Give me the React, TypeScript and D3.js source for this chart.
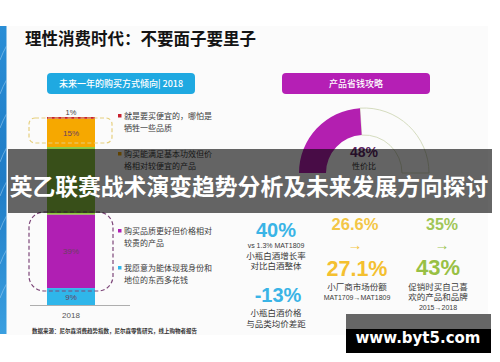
import React from "react";
import * as d3 from "d3";

// ---------- data ----------
const titleText = "理性消费时代：不要面子要里子";
const bannerText = "英乙联赛战术演变趋势分析及未来发展方向探讨";
const leftHeader = "未来一年的购买方式倾向| 2018";
const rightHeader = "产品省钱攻略";
const barCategory = "2018";
const segmentValues = [1, 15, 36, 39, 9];
const segmentLabels = ["1%", "15%", "", "39%", "9%"];
const legendLines = [
  ["就是要买便宜的，哪怕是", "牺牲一些品质"],
  ["购买能满足基本功效但价", "格相对较便宜的产品"],
  ["购买品质更好但价格相对", "较贵的产品"],
  ["我愿意为能体现我身份和", "地位的东西多花钱"],
];
const legendSegment = [0, 1, 3, 4];
const sourceText = "数据来源：尼尔森消费趋势指数，尼尔森零售研究，线上购物者报告";
const gaugeValue = 48;
const gaugeLabel = "48%";
const gaugeCaption = "性价比";
const statA = { big1: "40%", sub1: ["vs 1.3% MAT1809", "小瓶白酒增长率", "对比白酒整体"], big2: "-13%", sub2: ["小瓶白酒价格", "与品类均价差距"] };
const statB = { from: "26.6%", to: "27.1%", sub: ["小厂商市场份额", "MAT1709→MAT1809"] };
const statC = { from: "35%", to: "43%", sub: ["促销时买自己喜", "欢的产品和品牌", "2015→2018"] };
const watermark = "www.byt5.com";

// ---------- styles ----------
const segColors = ["#c8202e", "#f6a800", "#8dc63f", "#b01fb3", "#2fb6ea"];
const CJK = "'Noto Sans CJK SC', 'Noto Sans', sans-serif";
const LAT = "'Liberation Sans', Arial, sans-serif";

export default function App() {
  // bar scale
  const barTop = 117, barBottom = 305, barX = 47, barW = 48;
  const total = d3.sum(segmentValues);
  const y = d3.scaleLinear().domain([0, total]).range([barTop, barBottom]);
  const cum = [0, ...d3.cumsum(segmentValues)];

  // gauge
  const gcx = 364, gcy = 173, gR = 65, gr = 38;
  const ang = d3.scaleLinear().domain([0, 100]).range([-Math.PI / 2, Math.PI / 2]);
  const arcGen = d3.arc();
  const filled = arcGen({ innerRadius: gr, outerRadius: gR, startAngle: ang(0), endAngle: ang(gaugeValue) }) as string;
  const track = arcGen({ innerRadius: gr, outerRadius: gR, startAngle: ang(gaugeValue), endAngle: ang(100) }) as string;

  const legendY = [116, 154, 231, 268];

  return (
    <svg width={500} height={362} style={{ position: "absolute", left: 0, top: 0, background: "#fff" }}>
      <defs>
        <linearGradient id="strip" x1="0" y1="0" x2="0" y2="1">
          <stop offset="0" stopColor="#2a8ed6" />
          <stop offset="0.5" stopColor="#1f7cc6" />
          <stop offset="1" stopColor="#3a9fe0" />
        </linearGradient>
      </defs>
      <rect x={0} y={0} width={500} height={362} fill="#fff" />
      <rect x={6} y={26} width={482} height={309} fill="#fbfbfb" />
      {/* left blue strip */}
      <rect x={0} y={26} width={6.5} height={308} fill="url(#strip)" />
      {d3.range(8).map((i) => (
        <path key={i} d={`M0,${60 + i * 34} q3,-8 6.5,-14`} stroke="#9fd0f2" strokeWidth={0.8} fill="none" opacity={0.7} />
      ))}

      {/* title */}
      <text x={25} y={45} fontFamily={CJK} fontWeight={700} fontSize={16.5} fill="#141414">{titleText}</text>

      {/* headers */}
      <rect x={47} y={73} width={148} height={21} rx={4} fill="#1fa9e1" />
      <text x={121} y={87} textAnchor="middle" fontFamily={CJK} fontSize={9} fontWeight={500} fill="#fff">{leftHeader}</text>
      <rect x={282} y={73} width={148} height={21} rx={4} fill="#b51fb5" />
      <text x={356} y={87} textAnchor="middle" fontFamily={CJK} fontSize={9} fontWeight={500} fill="#fff">{rightHeader}</text>

      {/* stacked bar */}
      {segmentValues.map((v, i) => (
        <rect key={i} x={barX} y={y(cum[i])} width={barW} height={y(cum[i + 1]) - y(cum[i])} fill={segColors[i]} />
      ))}
      {segmentLabels.map((l, i) =>
        l && i > 0 ? (
          <text key={i} x={barX + barW / 2} y={(y(cum[i]) + y(cum[i + 1])) / 2 + 3} textAnchor="middle" fontFamily={LAT} fontSize={8} fill="#6a3f60">{l}</text>
        ) : null
      )}
      <text x={barX + barW / 2} y={y(0) - 2} textAnchor="middle" fontFamily={LAT} fontSize={7.5} fill="#444">{segmentLabels[0]}</text>
      <line x1={30} x2={130} y1={barBottom + 0.5} y2={barBottom + 0.5} stroke="#9a9a9a" strokeWidth={0.8} />
      <text x={71} y={318} textAnchor="middle" fontFamily={LAT} fontSize={8} fill="#555">{barCategory}</text>
      {/* dashed groups */}
      <rect x={29} y={118} width={83} height={25} rx={6} fill="none" stroke="#e6cf7e" strokeWidth={1.2} strokeDasharray="4 2.5" />
      <rect x={29} y={212} width={84} height={79} rx={15} fill="none" stroke="#7d4679" strokeWidth={1.2} strokeDasharray="4 2.5" />

      {/* legend */}
      {legendLines.map((lines, i) => (
        <g key={i}>
          <rect x={118} y={legendY[i] - 2} width={3.5} height={3.5} fill={segColors[legendSegment[i]]} />
          {lines.map((t, j) => (
            <text key={j} x={124} y={legendY[i] + 3 + j * 11.5} fontFamily={CJK} fontSize={8} fill="#3a3a3a">{t}</text>
          ))}
        </g>
      ))}
      <text x={32} y={333} fontFamily={CJK} fontSize={5.5} fontWeight={700} fill="#333">{sourceText}</text>

      {/* gauge */}
      <g transform={`translate(${gcx},${gcy})`}>
        <path d={track} fill="none" stroke="#d5dcbf" strokeWidth={1} />
        <path d={filled} fill="#b31fb0" />
      </g>
      <text x={364} y={157} textAnchor="middle" fontFamily={LAT} fontWeight={700} fontSize={14} fill="#5b2463">{gaugeLabel}</text>
      <text x={364} y={169} textAnchor="middle" fontFamily={CJK} fontSize={8} fill="#333">{gaugeCaption}</text>

      {/* stats column A */}
      <text x={276} y={237} textAnchor="middle" fontFamily={LAT} fontWeight={700} fontSize={20} fill="#3ab4e6">{statA.big1}</text>
      {statA.sub1.map((t, j) => (
        <text key={j} x={276} y={248 + j * 10.5} textAnchor="middle" fontFamily={j === 0 ? LAT : CJK} fontSize={j === 0 ? 7 : 8.5} fill="#3a3a3a">{t}</text>
      ))}
      <text x={278} y={302} textAnchor="middle" fontFamily={LAT} fontWeight={700} fontSize={20} fill="#3ab4e6">{statA.big2}</text>
      {statA.sub2.map((t, j) => (
        <text key={j} x={276} y={316 + j * 11} textAnchor="middle" fontFamily={CJK} fontSize={8.5} fill="#3a3a3a">{t}</text>
      ))}

      {/* stats column B */}
      <text x={355} y={230} textAnchor="middle" fontFamily={LAT} fontWeight={700} fontSize={16.5} fill="#f3c646">{statB.from}</text>
      <text x={355} y={250} textAnchor="middle" fontFamily={LAT} fontSize={15} fill="#f3c646">→</text>
      <text x={357} y={276} textAnchor="middle" fontFamily={LAT} fontWeight={700} fontSize={21.5} fill="#f4c030">{statB.to}</text>
      <text x={357} y={290} textAnchor="middle" fontFamily={CJK} fontSize={8.5} fill="#3a3a3a">{statB.sub[0]}</text>
      <text x={357} y={300} textAnchor="middle" fontFamily={LAT} fontSize={7} fill="#3a3a3a">{statB.sub[1]}</text>

      {/* stats column C */}
      <text x={442} y={230} textAnchor="middle" fontFamily={LAT} fontWeight={700} fontSize={16} fill="#a0c656">{statC.from}</text>
      <text x={442} y={250} textAnchor="middle" fontFamily={LAT} fontSize={15} fill="#a0c656">→</text>
      <text x={438} y={275} textAnchor="middle" fontFamily={LAT} fontWeight={700} fontSize={22} fill="#98c044">{statC.to}</text>
      <text x={438} y={290} textAnchor="middle" fontFamily={CJK} fontSize={8.5} fill="#3a3a3a">{statC.sub[0]}</text>
      <text x={438} y={300} textAnchor="middle" fontFamily={CJK} fontSize={8.5} fill="#3a3a3a">{statC.sub[1]}</text>
      <text x={438} y={310} textAnchor="middle" fontFamily={LAT} fontSize={7} fill="#3a3a3a">{statC.sub[2]}</text>

      {/* banner overlay */}
      <rect x={8} y={149} width={484} height={64} fill="#000" opacity={0.6} />
      <text x={249} y={194.5} textAnchor="middle" fontFamily={CJK} fontWeight={700} fontSize={22.8} fill="#fff">{bannerText}</text>

      {/* watermark */}
      <rect x={346} y={314} width={145} height={15} fill="#666" />
      <rect x={346} y={329} width={145} height={24} fill="#000" />
      <text x={418} y={343} textAnchor="middle" fontFamily="'DejaVu Sans', sans-serif" fontWeight={700} fontSize={15} fill="#fff">{watermark}</text>
    </svg>
  );
}
